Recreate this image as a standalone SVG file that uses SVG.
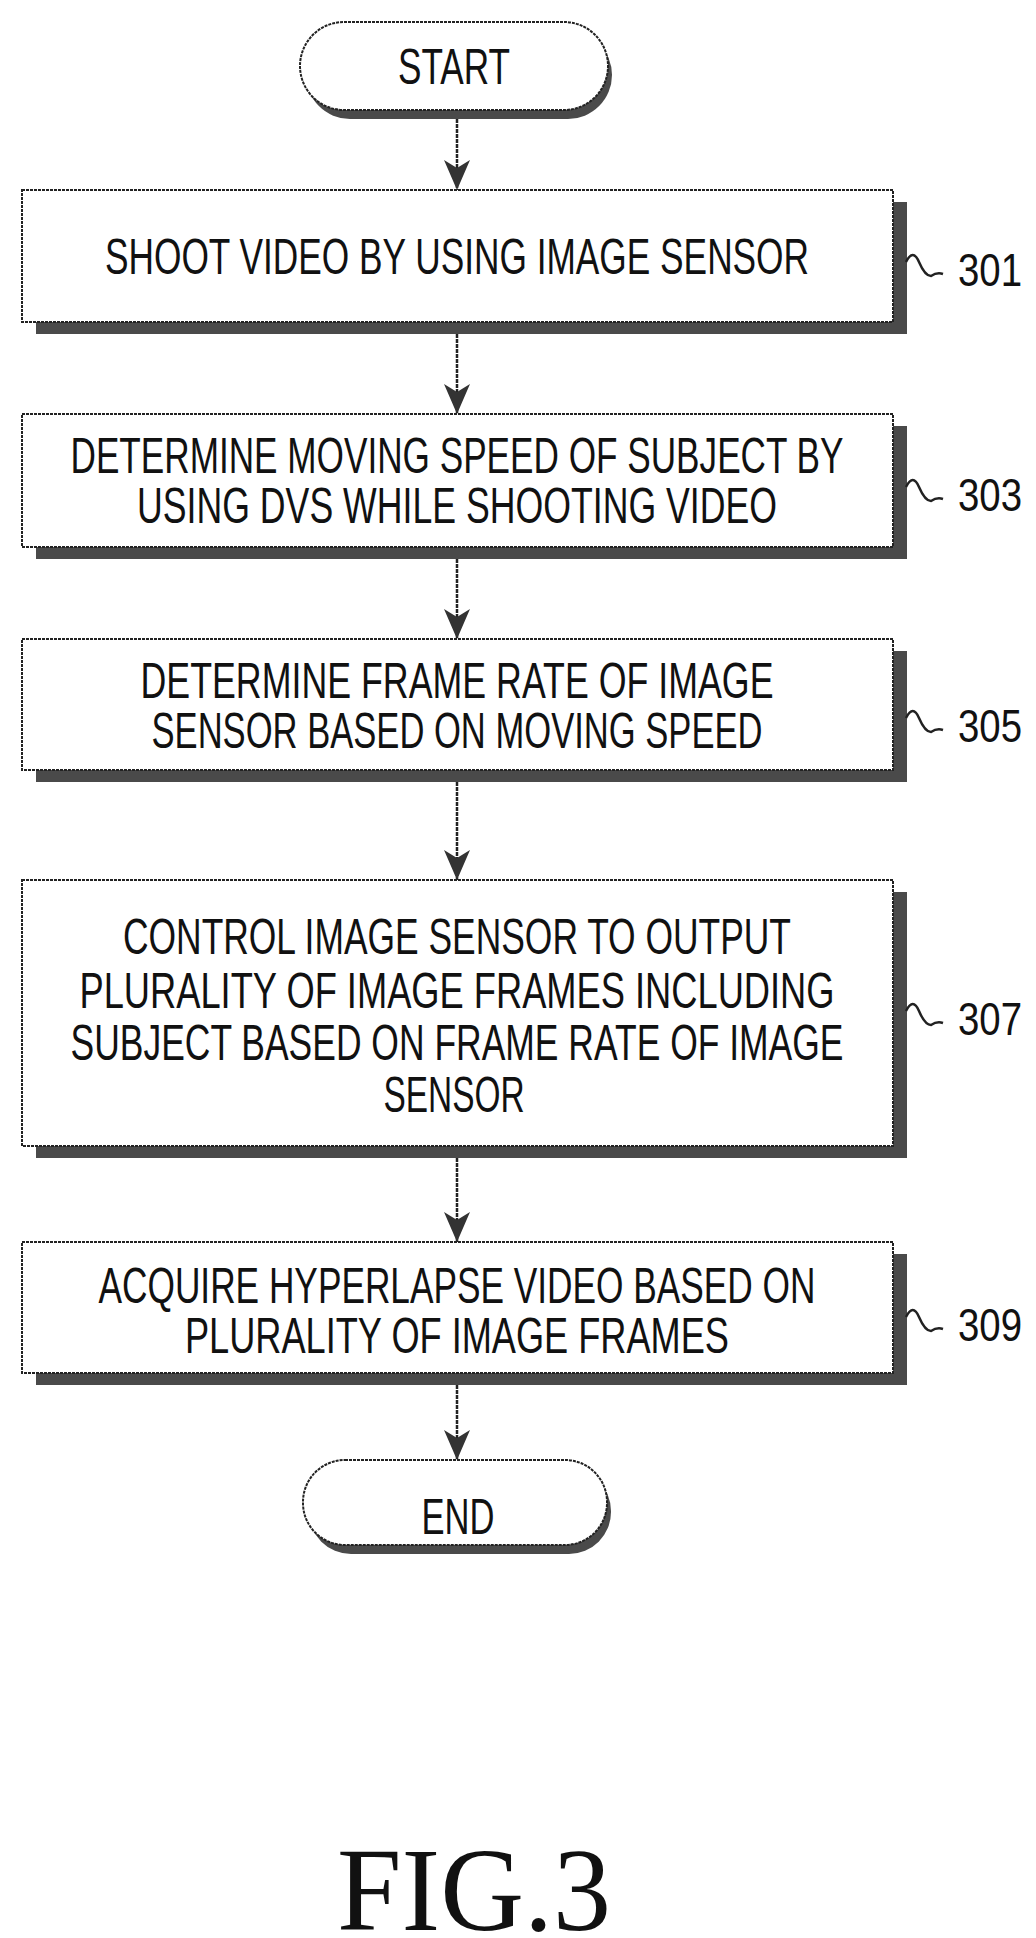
<svg xmlns="http://www.w3.org/2000/svg" width="1036" height="1938" viewBox="0 0 1036 1938">
<style>
.b{fill:#fff;stroke:#222;stroke-width:2;stroke-dasharray:3 1}
.s{fill:#4a4a4a}
.t{font-family:"Liberation Sans",sans-serif;font-size:50px;fill:#111;text-anchor:middle}
.n{font-family:"Liberation Sans",sans-serif;font-size:46px;fill:#111}
.c{stroke:#222;stroke-width:2.5;fill:none;stroke-dasharray:4 1}
.q{stroke:#222;stroke-width:2.5;fill:none}
.f{font-family:"Liberation Serif",serif;font-size:118px;fill:#111;text-anchor:middle}
</style>
<defs><marker id="h" markerWidth="30" markerHeight="26" refX="30" refY="13" orient="auto" markerUnits="userSpaceOnUse" viewBox="0 0 30 26"><path d="M0,0 L8,13 L0,26 L30,13 Z" fill="#333"/></marker></defs>
<rect width="1036" height="1938" fill="#fff"/>
<g id="connectors">
<line class="c" x1="457" y1="119" x2="457" y2="190" marker-end="url(#h)"/>
<line class="c" x1="457" y1="334" x2="457" y2="414" marker-end="url(#h)"/>
<line class="c" x1="457" y1="559" x2="457" y2="639" marker-end="url(#h)"/>
<line class="c" x1="457" y1="782" x2="457" y2="880" marker-end="url(#h)"/>
<line class="c" x1="457" y1="1158" x2="457" y2="1242" marker-end="url(#h)"/>
<line class="c" x1="457" y1="1385" x2="457" y2="1460" marker-end="url(#h)"/>
</g>
<g id="start"><rect class="s" x="306" y="31" width="306" height="88" rx="44"/><rect class="b" x="300" y="22" width="308" height="88" rx="44"/><text class="t" x="454" y="84" textLength="112" lengthAdjust="spacingAndGlyphs">START</text></g>
<g id="n301"><rect class="s" x="36" y="202" width="871" height="132"/><rect class="b" x="22" y="190" width="871" height="132"/><text class="t" x="457" y="274" textLength="704" lengthAdjust="spacingAndGlyphs">SHOOT VIDEO BY USING IMAGE SENSOR</text><path class="q" d="M906,262 q7,-14 13,0 t12,14 q6,-4 12,-2"/><text class="n" x="958" y="286" textLength="64" lengthAdjust="spacingAndGlyphs">301</text></g>
<g id="n303"><rect class="s" x="36" y="426" width="871" height="133"/><rect class="b" x="22" y="414" width="871" height="133"/><text class="t" x="457" y="473" textLength="773" lengthAdjust="spacingAndGlyphs">DETERMINE MOVING SPEED OF SUBJECT BY</text><text class="t" x="457" y="523" textLength="640" lengthAdjust="spacingAndGlyphs">USING DVS WHILE SHOOTING VIDEO</text><path class="q" d="M906,487 q7,-14 13,0 t12,14 q6,-4 12,-2"/><text class="n" x="958" y="511" textLength="64" lengthAdjust="spacingAndGlyphs">303</text></g>
<g id="n305"><rect class="s" x="36" y="651" width="871" height="131"/><rect class="b" x="22" y="639" width="871" height="131"/><text class="t" x="457" y="698" textLength="633" lengthAdjust="spacingAndGlyphs">DETERMINE FRAME RATE OF IMAGE</text><text class="t" x="457" y="748" textLength="611" lengthAdjust="spacingAndGlyphs">SENSOR BASED ON MOVING SPEED</text><path class="q" d="M906,718 q7,-14 13,0 t12,14 q6,-4 12,-2"/><text class="n" x="958" y="742" textLength="64" lengthAdjust="spacingAndGlyphs">305</text></g>
<g id="n307"><rect class="s" x="36" y="892" width="871" height="266"/><rect class="b" x="22" y="880" width="871" height="266"/><text class="t" x="457" y="954" textLength="668" lengthAdjust="spacingAndGlyphs">CONTROL IMAGE SENSOR TO OUTPUT</text><text class="t" x="457" y="1008" textLength="755" lengthAdjust="spacingAndGlyphs">PLURALITY OF IMAGE FRAMES INCLUDING</text><text class="t" x="457" y="1060" textLength="773" lengthAdjust="spacingAndGlyphs">SUBJECT BASED ON FRAME RATE OF IMAGE</text><text class="t" x="454" y="1112" textLength="141" lengthAdjust="spacingAndGlyphs">SENSOR</text><path class="q" d="M906,1011 q7,-14 13,0 t12,14 q6,-4 12,-2"/><text class="n" x="958" y="1035" textLength="64" lengthAdjust="spacingAndGlyphs">307</text></g>
<g id="n309"><rect class="s" x="36" y="1254" width="871" height="131"/><rect class="b" x="22" y="1242" width="871" height="131"/><text class="t" x="457" y="1303" textLength="717" lengthAdjust="spacingAndGlyphs">ACQUIRE HYPERLAPSE VIDEO BASED ON</text><text class="t" x="457" y="1353" textLength="544" lengthAdjust="spacingAndGlyphs">PLURALITY OF IMAGE FRAMES</text><path class="q" d="M906,1317 q7,-14 13,0 t12,14 q6,-4 12,-2"/><text class="n" x="958" y="1341" textLength="64" lengthAdjust="spacingAndGlyphs">309</text></g>
<g id="end"><rect class="s" x="309" y="1469" width="302" height="85" rx="42"/><rect class="b" x="303" y="1460" width="304" height="85" rx="42"/><text class="t" x="458" y="1534" textLength="73" lengthAdjust="spacingAndGlyphs">END</text></g>
<text class="f" x="474" y="1930" textLength="274" lengthAdjust="spacingAndGlyphs">FIG.3</text>
</svg>
